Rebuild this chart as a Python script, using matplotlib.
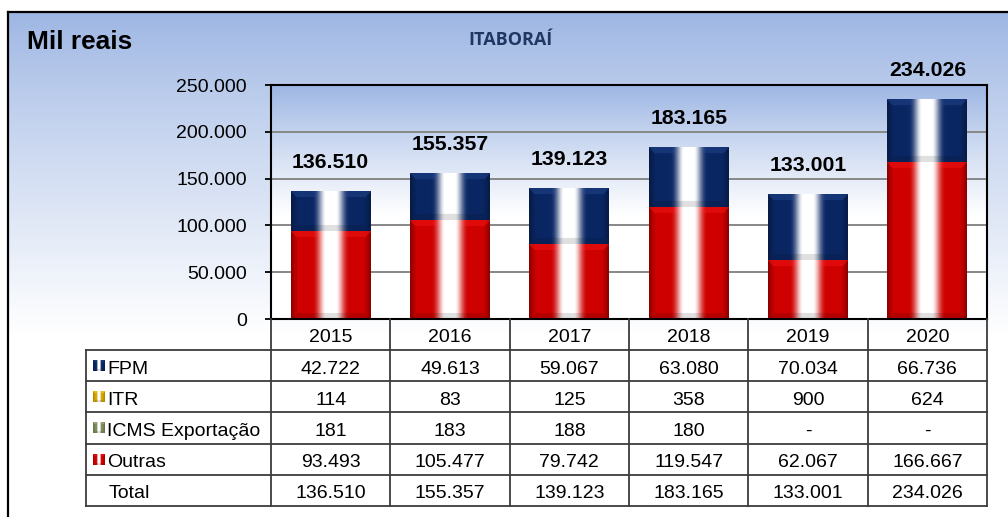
import numpy as np
import matplotlib
matplotlib.use("Agg")
import matplotlib.pyplot as plt
from matplotlib.colors import to_rgb

plt.rcParams['font.family'] = ['Liberation Sans', 'DejaVu Sans']

# ---- data (mil reais) ----
years = ['2015', '2016', '2017', '2018', '2019', '2020']
fpm = [42722, 49613, 59067, 63080, 70034, 66736]
itr = [114, 83, 125, 358, 900, 624]
icms = [181, 183, 188, 180, 0, 0]
outras = [93493, 105477, 79742, 119547, 62067, 166667]
totals = [136510, 155357, 139123, 183165, 133001, 234026]
series_names = ['FPM', 'ITR', 'ICMS Exportação', 'Outras']
y_ticks = [0, 50000, 100000, 150000, 200000, 250000]

colors = {'FPM': '#0a2764', 'ITR': '#d9a400', 'ICMS Exportação': '#7d8c5c',
          'Outras': '#cf0000'}


def fmt(v):
    return '-' if v == 0 else f"{v:,}".replace(',', '.')


W, H = 1008, 517
fig = plt.figure(figsize=(W / 100, H / 100), dpi=100)
fig.patch.set_facecolor('white')

# ---- figure background gradient inside the frame ----
bg = fig.add_axes([0, 0, 1, 1], zorder=0)
bg.set_xlim(0, W)
bg.set_ylim(H, 0)
bg.axis('off')
top_rgb = np.array(to_rgb('#9cb5e3'))
ys = np.arange(12, H) + 0.5
s = np.clip((ys - 12) / (335 - 12), 0, 1) ** 0.85
grad = top_rgb[None, :] * (1 - s[:, None]) + s[:, None]
bg.imshow(grad[:, None, :], extent=(8, W, H, 12), aspect='auto',
          interpolation='bilinear', zorder=0)

# ---- plot area ----
L, R, T, B = 271, 987, 85, 319
ax = fig.add_axes([L / W, 1 - B / H, (R - L) / W, (B - T) / H], zorder=1)
ax.set_xlim(-0.5, 5.5)
ax.set_ylim(0, 250000)
ax.patch.set_alpha(0)

gy = np.linspace(250000, 0, 300)
sa = np.clip((250000 - gy) / 140000, 0, 1) ** 0.9
pgrad = top_rgb[None, :] * (1 - sa[:, None]) + sa[:, None]
ax.imshow(pgrad[:, None, :], extent=(-0.5, 5.5, 0, 250000), aspect='auto',
          interpolation='bilinear', zorder=0)

ax.set_yticks(y_ticks)
ax.set_yticklabels([fmt(v) if v else '0' for v in y_ticks], fontsize=14)
ax.set_xticks([])
ax.tick_params(axis='y', length=4.5, width=1.3, pad=13, color='black')
ax.yaxis.grid(True, color='#878787', lw=1.4)
ax.set_axisbelow(True)
for sp in ax.spines.values():
    sp.set_color('black')
    sp.set_linewidth(1.5)
    sp.set_zorder(5)


def smooth(e0, e1, v):
    u = np.clip((v - e0) / (e1 - e0), 0, 1)
    return u * u * (3 - 2 * u)


def cylinder(base, w, h, bevel=6):
    """Glossy column face: white core, soft falloff, bevelled rim."""
    base = np.array(to_rgb(base))
    t = (np.arange(w) + 0.5) / w
    d = np.abs(t - 0.5)
    hl = 1 - smooth(0.06, 0.24, d)
    hl = hl ** 1.3
    dark = 1 - 0.25 * (np.exp(-(t / 0.04) ** 2) + np.exp(-((1 - t) / 0.04) ** 2))
    row = base[None, :] * dark[:, None] * (1 - hl[:, None]) + hl[:, None]
    img = np.repeat(row[None, :, :], h, axis=0)
    ii, jj = np.meshgrid(np.arange(h), np.arange(w), indexing='ij')
    dt, db, dl, dr = ii, h - 1 - ii, jj, w - 1 - jj
    side = np.minimum(dl, dr)
    top = (dt < bevel) & (dt <= side)
    bot = (db < bevel) & (db < side) & ~top
    sides = (side < bevel) & ~top & ~bot
    light = np.clip(base * 1.25 + 0.12, 0, 1)
    img[top] = img[top] * 0.65 + 0.35 * np.maximum(img[top], light[None, :])
    img[sides] = img[sides] * 0.92
    img[bot] = img[bot] * 0.88
    return np.clip(img, 0, 1)


px_per_unit_y = (B - T) / 250000
px_per_cat = (R - L) / 6
bar_w = 0.67
x = np.arange(len(years))
bottom = np.zeros(len(years))
for name, vals in [('Outras', outras), ('ICMS Exportação', icms),
                   ('ITR', itr), ('FPM', fpm)]:
    bars = ax.bar(x, vals, bar_w, bottom=bottom, color=colors[name],
                  zorder=2, linewidth=0)
    for p in bars:
        hpx = int(round(p.get_height() * px_per_unit_y))
        wpx = int(round(p.get_width() * px_per_cat))
        if hpx >= 4:
            img = cylinder(colors[name], wpx, hpx)
            ax.imshow(img, extent=(p.get_x(), p.get_x() + p.get_width(),
                                   p.get_y(), p.get_y() + p.get_height()),
                      aspect='auto', interpolation='bilinear', zorder=3)
    bottom += np.array(vals)

ax.set_xlim(-0.5, 5.5)
ax.set_ylim(0, 250000)

for i, tot in enumerate(totals):
    ax.annotate(fmt(tot), (x[i], tot), xytext=(0, 21), textcoords='offset points',
                ha='center', va='center', fontsize=15.3, fontweight='bold',
                annotation_clip=False, zorder=6)

# ---- overlay: frame, titles and data table ----
ov = fig.add_axes([0, 0, 1, 1], zorder=2)
ov.set_xlim(0, W)
ov.set_ylim(H, 0)
ov.axis('off')
ov.patch.set_alpha(0)

ov.plot([8, W], [12, 12], color='black', lw=1.6, solid_capstyle='projecting')
ov.plot([8, 8], [12, H], color='black', lw=1.6, solid_capstyle='projecting')

ov.text(27, 49.3, 'Mil reais', fontsize=18.9, fontweight='bold', va='baseline',
        ha='left')
ov.text(511, 45, 'ITABORAÍ', fontsize=13, fontweight='bold', va='baseline',
        ha='center', color='#1f3763', family=['Open Sans', 'DejaVu Sans'])

col_x = [L + k * px_per_cat for k in range(7)]
row_y = [350 + r * 31.2 for r in range(6)]
line_c = '#3c3c3c'
lw = 1.3

# header row with years
for cx in col_x:
    ov.plot([cx, cx], [B, row_y[0]], color=line_c, lw=lw)
for k, yr in enumerate(years):
    ov.text((col_x[k] + col_x[k + 1]) / 2, (B + row_y[0]) / 2 + 8, yr,
            fontsize=14, ha='center', va='baseline')

# body
for ry in row_y:
    ov.plot([86, R], [ry, ry], color=line_c, lw=lw)
for cx in [86] + col_x:
    ov.plot([cx, cx], [row_y[0], row_y[-1]], color=line_c, lw=lw)

table_rows = [('FPM', fpm), ('ITR', itr), ('ICMS Exportação', icms),
              ('Outras', outras), ('Total', totals)]
for r, (name, vals) in enumerate(table_rows):
    yc = (row_y[r] + row_y[r + 1]) / 2
    if name in colors:
        key = cylinder(colors[name], 12, 11, bevel=2)
        ov.imshow(key, extent=(93, 105, yc + 5.5, yc - 5.5), aspect='auto',
                  interpolation='bilinear', zorder=3)
        ov.text(107, yc + 8, name, fontsize=14, ha='left', va='baseline')
    else:
        ov.text(109, yc + 8, name, fontsize=14, ha='left', va='baseline')
    for k, v in enumerate(vals):
        ov.text((col_x[k] + col_x[k + 1]) / 2, yc + 8, fmt(v), fontsize=14,
                ha='center', va='baseline')

ov.set_xlim(0, W)
ov.set_ylim(H, 0)

fig.savefig('out.png', dpi=100)
